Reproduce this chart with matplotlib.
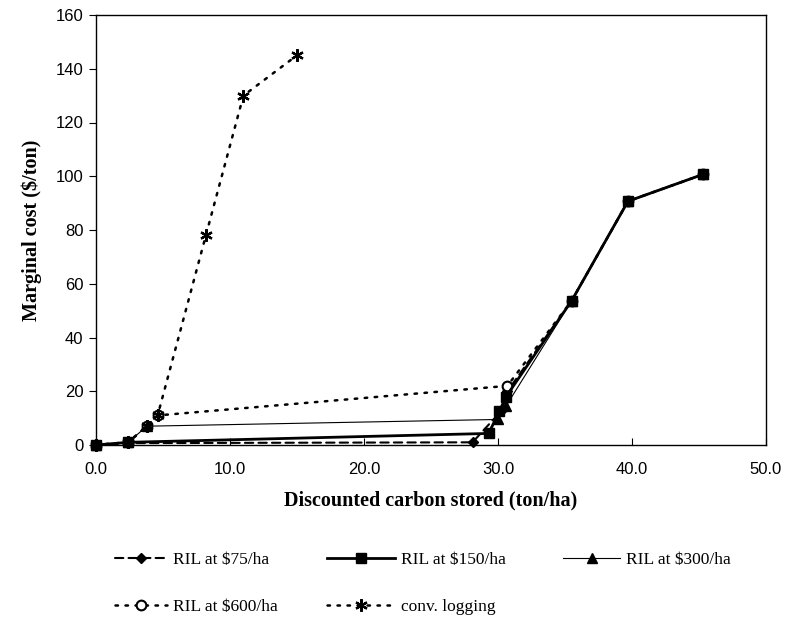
import numpy as np
import matplotlib
matplotlib.use('Agg')
import matplotlib.pyplot as plt

# Данные
x_75 = [0.0, 2.4, 28.1, 30.3, 30.7, 35.5, 39.7, 45.3]
y_75 = [0.0, 0.7, 1.0, 13.0, 20.0, 53.7, 90.7, 100.7]

x_150 = [0.0, 2.4, 29.3, 30.1, 30.6, 35.5, 39.7, 45.3]
y_150 = [0.0, 1.0, 4.3, 12.5, 18.0, 53.7, 90.7, 100.7]

x_300 = [0.0, 2.4, 3.8, 30.0, 30.6, 35.5, 39.7, 45.3]
y_300 = [0.0, 1.0, 7.0, 9.5, 14.5, 53.7, 90.7, 100.7]

x_600 = [0.0, 2.4, 3.8, 4.6, 30.7, 35.5, 39.7, 45.3]
y_600 = [0.0, 1.0, 7.0, 11.0, 22.0, 53.7, 90.7, 100.7]

x_conv = [0.0, 2.4, 3.8, 4.6, 8.2, 11.0, 15.0]
y_conv = [0.0, 1.0, 7.0, 11.0, 78.0, 130.0, 145.0]

labels = ['RIL at $75/ha', 'RIL at $150/ha', 'RIL at $300/ha',
          'RIL at $600/ha', 'conv. logging']

xticks = [0, 10, 20, 30, 40, 50]
yticks = [0, 20, 40, 60, 80, 100, 120, 140, 160]

serif = 'Liberation Serif'
sans = 'Liberation Sans'

fig = plt.figure(figsize=(7.85, 6.3), dpi=100)
ax = fig.add_axes([96 / 785, 1 - 445 / 630, 670 / 785, 430 / 630])

star = (6, 2, 0)
styles = [
    dict(ls=(0, (4, 2.5)), lw=1.5, marker='D', ms=5.5, mfc='black', zorder=3),
    dict(ls='-', lw=2.0, marker='s', ms=7, mfc='black', zorder=6),
    dict(ls='-', lw=0.8, marker='^', ms=7, mfc='black', zorder=4),
    dict(ls=(0, (1, 3)), lw=1.8, marker='o', ms=7, mfc='white', mew=1.5, zorder=3),
    dict(ls=(0, (1, 3)), lw=1.8, marker=star, ms=9, mfc='black', mew=1.6, zorder=5),
]
series = [(x_75, y_75), (x_150, y_150), (x_300, y_300),
          (x_600, y_600), (x_conv, y_conv)]

handles = []
for (xs, ys), st, lab in zip(series, styles, labels):
    h, = ax.plot(xs, ys, color='black', mec='black', label=lab,
                 dash_capstyle='round', clip_on=False, **st)
    handles.append(h)

ax.set_xlim(0, 50)
ax.set_ylim(0, 160)
ax.set_xticks(xticks)
ax.set_xticklabels([f'{v:.1f}' for v in xticks], fontfamily=sans, fontsize=12)
ax.set_yticks(yticks)
ax.set_yticklabels([str(v) for v in yticks], fontfamily=sans, fontsize=12)
ax.tick_params(axis='x', direction='in', length=5, pad=12)
ax.tick_params(axis='y', direction='out', length=5, pad=4)
for s in ax.spines.values():
    s.set_linewidth(1.0)

ax.set_xlabel('Discounted carbon stored (ton/ha)', fontfamily=serif,
              fontweight='bold', fontsize=14.5, labelpad=10)
ax.set_ylabel('Marginal cost ($/ton)', fontfamily=serif,
              fontweight='bold', fontsize=14.5, labelpad=10)

# Легенда: три колонки, каждая своей легендой
leg_kw = dict(frameon=False, loc='upper left', numpoints=1, borderpad=0,
              borderaxespad=0, handletextpad=0.35, labelspacing=1.75,
              prop={'family': serif, 'size': 12.5})
top = 1 - 552 / 630
fig.legend([handles[0], handles[3]], [labels[0], labels[3]],
           bbox_to_anchor=(115 / 785, top), handlelength=3.0, **leg_kw)
fig.legend([handles[1], handles[4]], [labels[1], labels[4]],
           bbox_to_anchor=(327 / 785, top), handlelength=3.9, **leg_kw)
fig.legend([handles[2]], [labels[2]],
           bbox_to_anchor=(563 / 785, top), handlelength=3.3, **leg_kw)

fig.savefig('out.png', dpi=100)
